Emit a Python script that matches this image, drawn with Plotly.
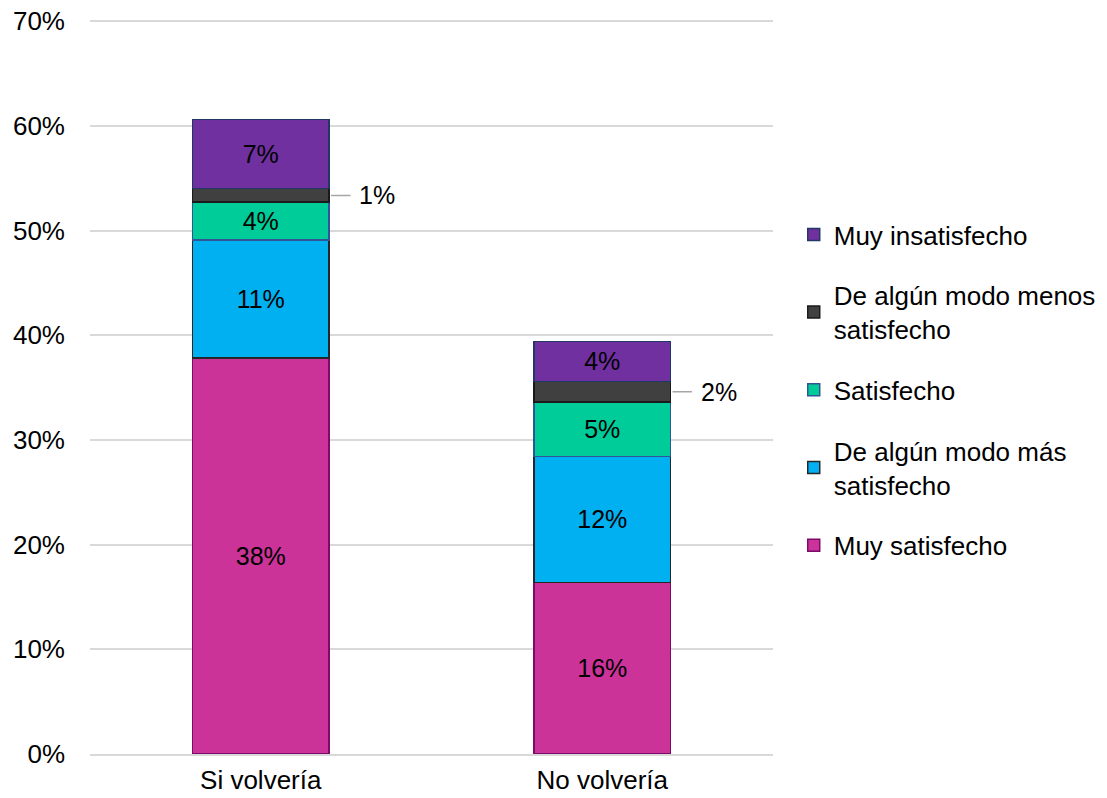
import plotly.graph_objects as go

categories = ["Si volvería", "No volvería"]
series_names = ["Muy satisfecho", "De algún modo más<br>satisfecho", "Satisfecho",
                "De algún modo menos<br>satisfecho", "Muy insatisfecho"]
muy_satisfecho = [0.378, 0.164]
algo_mas = [0.113, 0.120]
satisfecho = [0.036, 0.052]
algo_menos = [0.013, 0.020]
muy_insatisfecho = [0.066, 0.038]

values = [muy_satisfecho, algo_mas, satisfecho, algo_menos, muy_insatisfecho]
fills = ["#CC3399", "#00B0F0", "#00CC99", "#404040", "#7030A0"]
lines = ["#7B0A6A", "#262626", "#2F5597", "#1A1A1A", "#203864"]
show_inside = [True, True, True, False, True]

FONT = "Liberation Sans, Arial, sans-serif"
FS = 26

fig = go.Figure()
n = len(series_names)
for i, (name, vals) in enumerate(zip(series_names, values)):
    fig.add_trace(go.Bar(
        x=categories, y=vals, name=name,
        marker=dict(color=fills[i], line=dict(color=lines[i], width=1.5)),
        texttemplate="%{y:.0%}" if show_inside[i] else "",
        textposition="inside", insidetextanchor="middle",
        textfont=dict(color="black", size=FS - 1, family=FONT),
        legendgroup=str(i), legendrank=n - i,
    ))

# outside labels for the thin dark segment
for ci in range(len(categories)):
    base = muy_satisfecho[ci] + algo_mas[ci] + satisfecho[ci]
    ymid = base + algo_menos[ci] / 2
    fig.add_annotation(
        x=ci + 0.2, y=ymid, xref="x", yref="y",
        text=f"{round(algo_menos[ci]*100)}%",
        showarrow=True, arrowhead=0, arrowwidth=1.5, arrowcolor="#A6A6A6",
        ax=48, ay=0, standoff=2, borderpad=8,
        font=dict(size=FS - 1, color="black", family=FONT),
    )

fig.update_layout(
    barmode="stack", bargap=0.6,
    width=1107, height=798,
    margin=dict(l=90, r=334, t=19, b=44),
    paper_bgcolor="white", plot_bgcolor="white",
    font=dict(family=FONT, size=FS, color="black"),
    uniformtext=dict(minsize=10, mode="show"),
    legend=dict(
        xref="container", yref="container",
        x=0.717, xanchor="left", y=(798 - 390) / 798, yanchor="middle",
        traceorder="grouped", tracegroupgap=24,
        font=dict(size=FS, family=FONT, color="black"),
        itemwidth=30,
    ),
    showlegend=True,
)
fig.update_yaxes(range=[0, 0.702], tick0=0, dtick=0.1, tickformat=".0%",
                 showgrid=True, gridcolor="#D9D9D9", gridwidth=1.5,
                 zeroline=False, showline=False, ticks="", ticklabelstandoff=24,
                 automargin=False,
                 tickfont=dict(size=FS, color="black"))
fig.update_xaxes(showline=True, linecolor="#D9D9D9", linewidth=1.5, ticks="",
                 automargin=False,
                 tickfont=dict(size=FS, color="black"), ticklabelstandoff=2)

fig.write_html("out.html")
